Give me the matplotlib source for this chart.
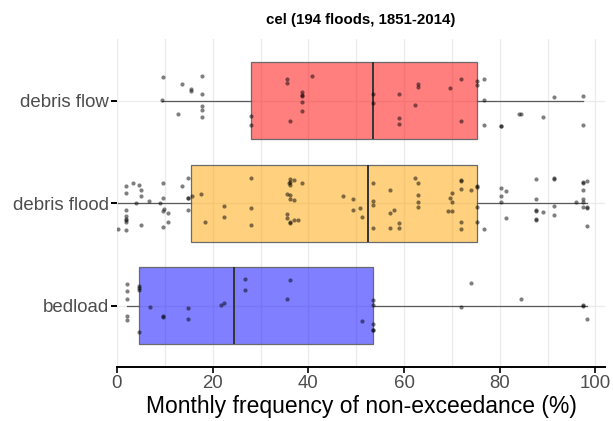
import matplotlib
matplotlib.use("Agg")
import matplotlib.pyplot as plt
import numpy as np

plt.rcParams['font.family'] = ['Liberation Sans', 'DejaVu Sans']

# categories bottom -> top
cats = ["bedload", "debris flood", "debris flow"]
cols = ["#0000FF", "#FFA500", "#FF0000"]

bedload = [2.0, 2.0, 2.0, 2.0, 2.0, 4.6, 4.6, 4.6, 4.6, 7.0, 9.6, 9.6, 14.8, 14.8,
           21.8, 22.3, 26.7, 26.7, 35.5, 36.2, 51.3, 53.5, 53.5, 53.5, 53.5, 53.5,
           71.9, 74.0, 84.5, 97.5, 97.5, 98.2]

debris_flood = [0.2, 1.9, 1.9, 1.9, 1.9, 1.9, 1.9, 1.9, 1.9, 3.4, 4.0, 4.6, 5.1, 5.1, 5.1,
                6.6, 8.9, 9.6, 9.6, 9.6, 9.6, 9.9, 10.7, 10.7, 13.6,
                14.9, 14.9, 14.9, 14.9, 15.6, 17.6, 18.3, 22.3, 22.3, 28.1, 28.1, 28.1,
                35.5, 35.5, 35.5, 35.9, 36.2, 36.2, 36.2, 36.2, 36.2, 36.2, 36.2,
                37.1, 37.1, 37.1, 37.9, 38.6, 47.3, 49.4, 49.4,
                50.7, 51.3, 53.5, 53.5, 53.5, 53.5, 57.0, 57.0, 57.0, 57.9, 58.9, 58.9,
                62.2, 62.9, 62.9, 62.9, 62.9, 69.1, 69.6, 70.0, 70.0, 70.0,
                71.9, 71.9, 71.9, 71.9, 71.9, 74.0, 75.2, 75.2, 75.2, 75.2, 76.7,
                80.3, 80.3, 80.3, 81.3, 81.3, 87.5, 87.5, 87.5, 87.5, 87.5, 87.5,
                89.1, 91.3, 91.3, 91.3, 91.3, 95.9, 97.5, 97.5, 97.5, 97.5, 97.5, 97.5,
                98.2, 98.2, 98.2, 98.2]

debris_flow = [9.4, 9.6, 12.7, 13.6, 15.5, 15.5, 17.7, 17.7, 17.7, 17.7, 17.7,
               28.1, 28.1, 35.5, 35.5, 36.2, 38.6, 38.6, 38.6, 38.6, 38.6, 40.8,
               53.5, 53.5, 58.9, 58.9, 58.9, 62.2, 62.9, 62.9, 69.6, 71.9, 71.9,
               75.2, 75.2, 76.7, 76.7, 76.7, 80.3, 80.3, 84.1, 84.5, 89.1, 91.3,
               97.5, 97.5]

data = [bedload, debris_flood, debris_flow]

fig = plt.figure(figsize=(6.13, 4.21), dpi=100)
ax = fig.add_axes([117/613, 1-367/421, (605-117)/613, (367-39.3)/421])

bp = ax.boxplot(data, positions=[1, 2, 3], orientation='horizontal', widths=0.75,
                patch_artist=True, showfliers=False, showcaps=False, whis=1.5, zorder=2)
for patch, c in zip(bp['boxes'], cols):
    patch.set_facecolor(matplotlib.colors.to_rgba(c, 0.5))
    patch.set_edgecolor("#6a6a6a")
    patch.set_linewidth(0.9)
for w in bp['whiskers']:
    w.set_color("#5a5a5a")
    w.set_linewidth(0.9)
for m in bp['medians']:
    m.set_color("#333333")
    m.set_linewidth(1.4)

# vertical jitter like geom_jitter
rng = np.random.default_rng(7)
for i, vals in enumerate(data):
    yy = i + 1 + rng.uniform(-0.26, 0.26, len(vals))
    ax.scatter(vals, yy, s=9, color="black", alpha=0.5, linewidths=0, zorder=3)

ax.set_xlim(0, 102)
ax.set_ylim(0.4, 3.6)
ax.set_xticks([0, 20, 40, 60, 80, 100])
ax.set_xticks([10, 30, 50, 70, 90], minor=True)
ax.set_yticks([1, 2, 3])
ax.set_yticklabels(cats)
ax.grid(True, which='both', axis='x', color="#EBEBEB", lw=1.0, zorder=0)
ax.grid(True, axis='y', color="#EBEBEB", lw=1.0, zorder=0)
ax.set_axisbelow(True)

for s in ['top', 'right', 'left']:
    ax.spines[s].set_visible(False)
ax.spines['bottom'].set_linewidth(1.4)
ax.spines['bottom'].set_color("black")
ax.tick_params(axis='x', which='major', length=4, width=1.2, color="black",
               labelsize=13.4, labelcolor="#4D4D4D", pad=2)
ax.tick_params(axis='x', which='minor', length=0)
ax.tick_params(axis='y', length=4, width=1.4, color="black",
               labelsize=13.4, labelcolor="#4D4D4D", pad=2)

ax.set_xlabel("Monthly frequency of non-exceedance (%)", fontsize=16.5, color="black", labelpad=2)
ax.set_title("cel (194 floods, 1851-2014)", fontsize=10.8, fontweight="bold", pad=11)

fig.savefig("out.png", dpi=100)
